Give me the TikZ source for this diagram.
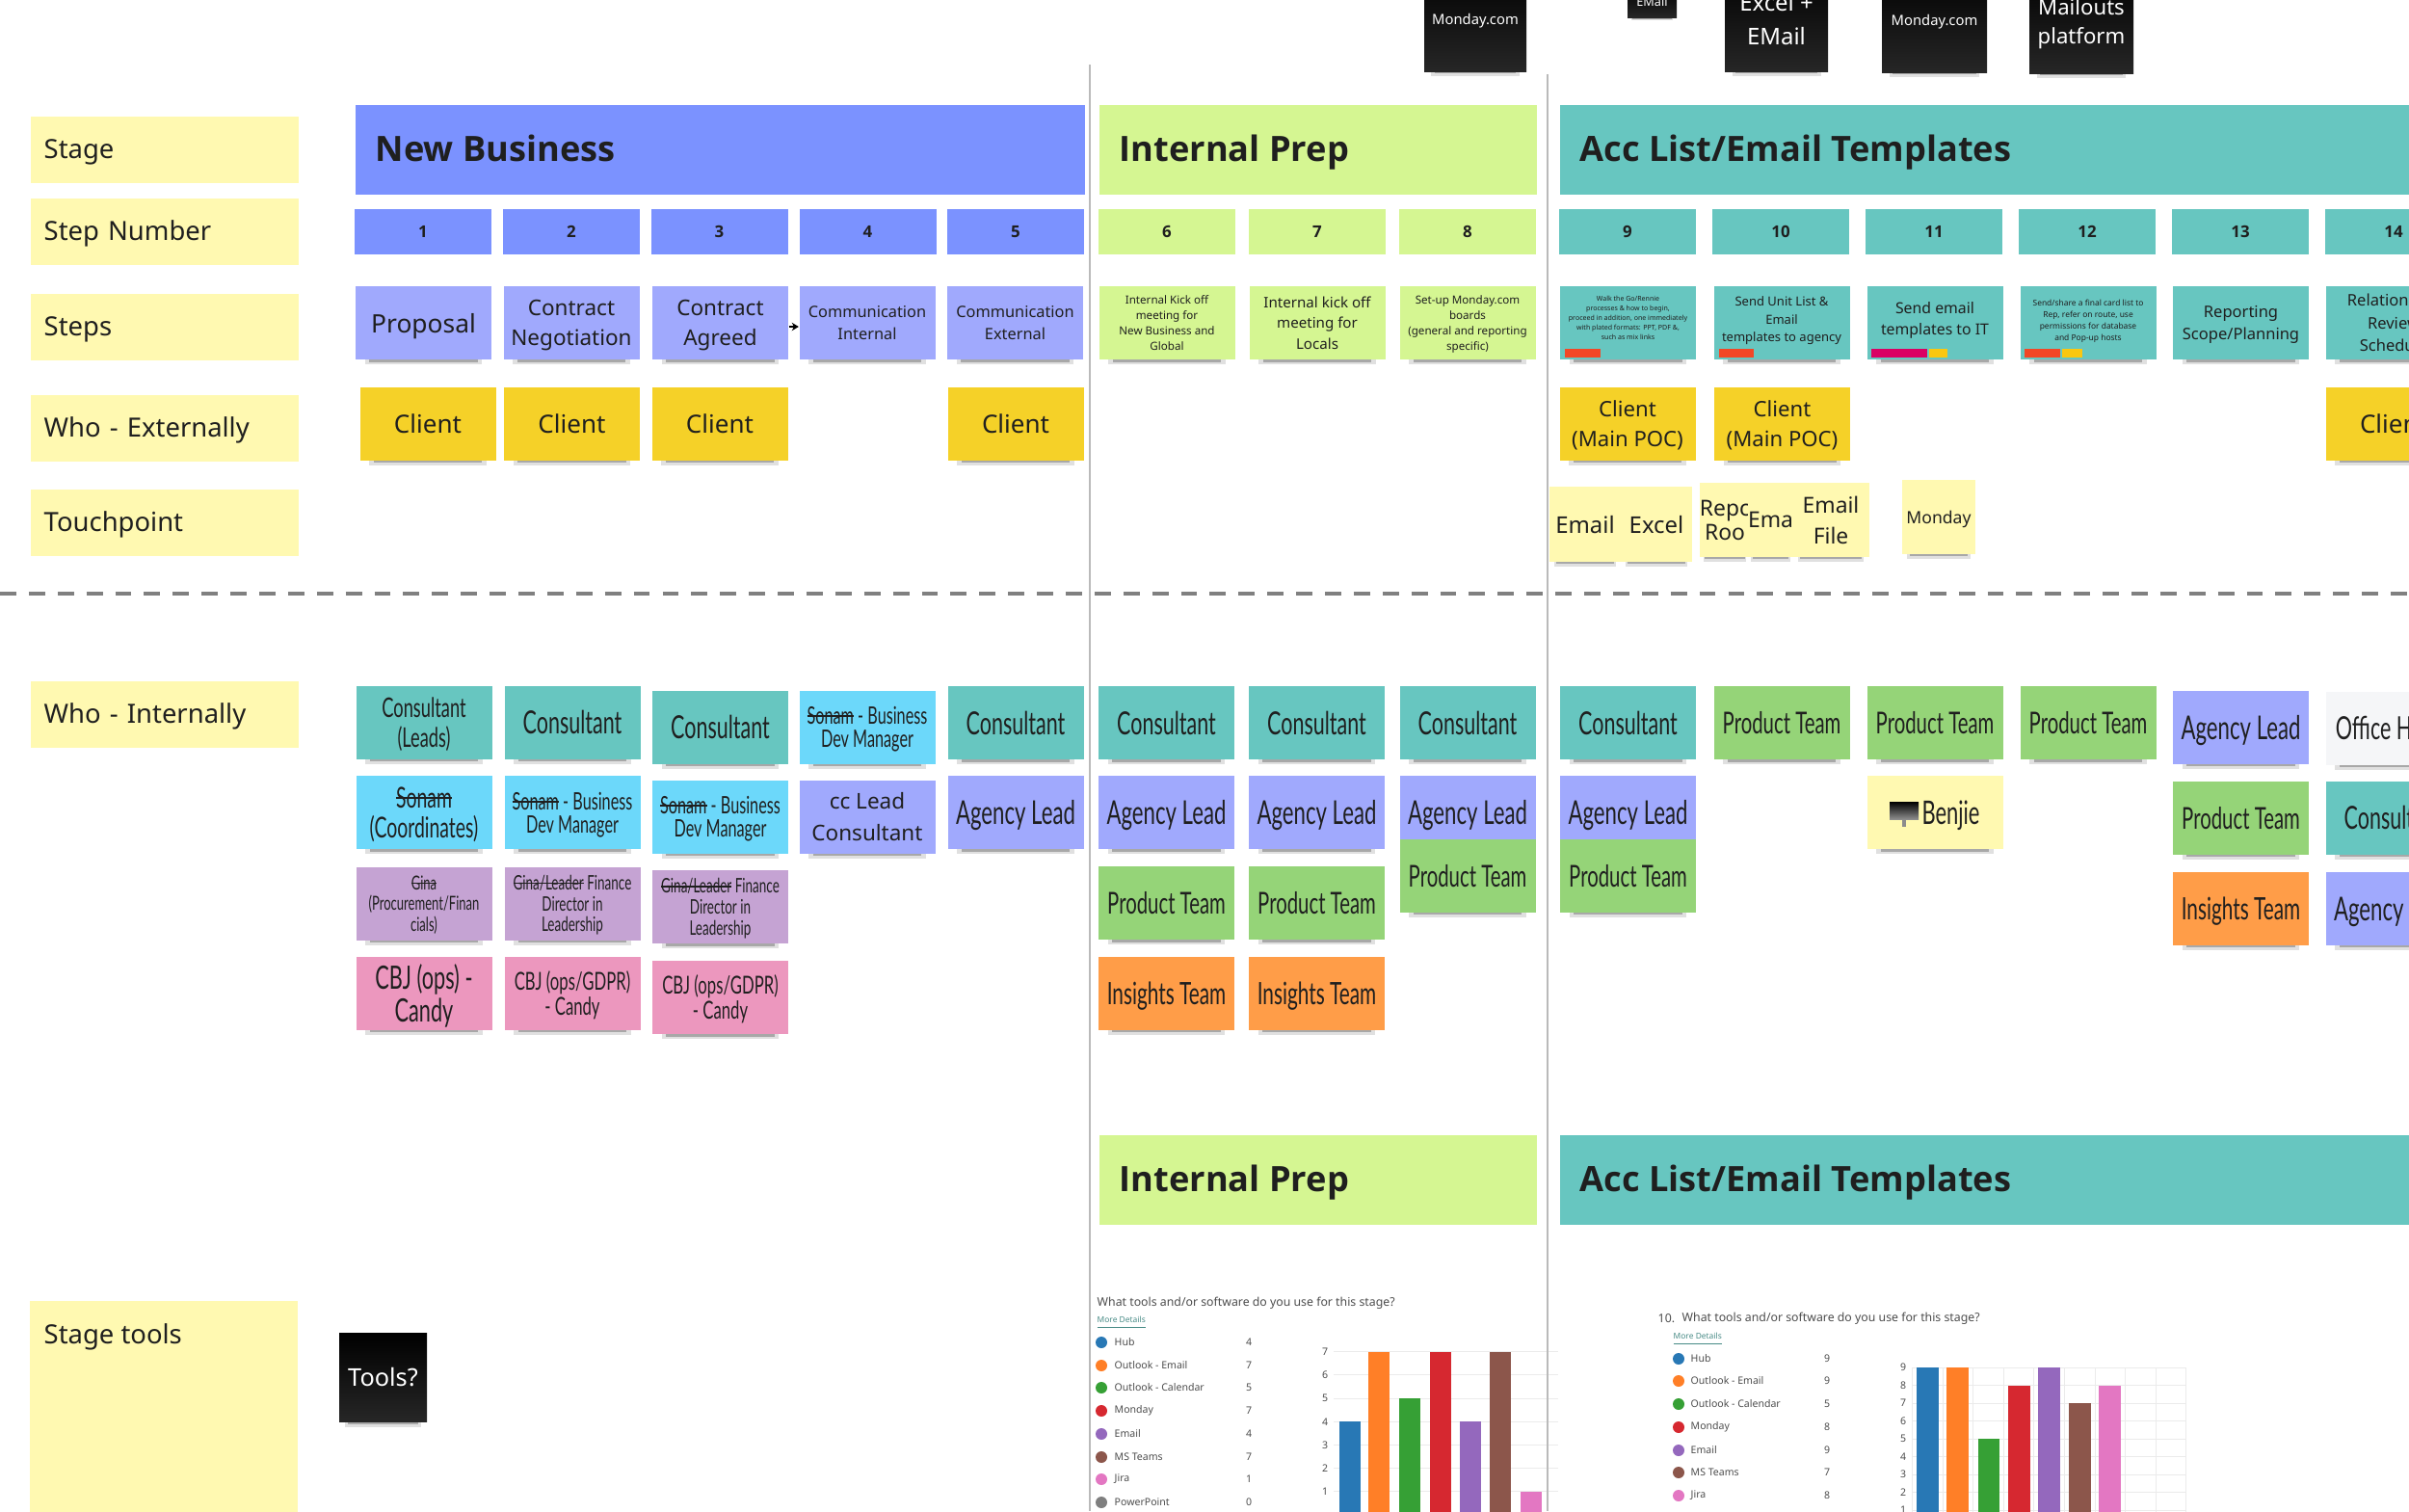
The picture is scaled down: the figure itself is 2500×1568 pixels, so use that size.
\documentclass[tikz,border=0pt]{standalone}
\usepackage{fontspec}
\setmainfont{Noto Sans}
\newfontfamily\handfont[FakeStretch=.65]{Lato}
\newfontfamily\titlefont{Open Sans}
\newsavebox\strikebox
\newcommand{\struck}[1]{\sbox\strikebox{#1}\rlap{\rule[.3em]{\wd\strikebox}{.07em}}\usebox\strikebox}
\usetikzlibrary{
    arrows.meta,
    calc,
    shadows
}
\definecolor{label yellow}{HTML}{FFF9B1}
\definecolor{stage blue}{HTML}{7B92FF}
\definecolor{stage lime}{HTML}{D5F692}
\definecolor{stage teal}{HTML}{67C6C0}
\definecolor{note blue}{HTML}{A0A9FD}
\definecolor{note yellow}{HTML}{F5D128}
\definecolor{note sky}{HTML}{6CD8FA}
\definecolor{note violet}{HTML}{C5A3D3}
\definecolor{note pink}{HTML}{EC97BE}
\definecolor{note green}{HTML}{95D478}
\definecolor{note orange}{HTML}{FF9D48}
\definecolor{note white}{HTML}{F5F6F8}
\definecolor{tag red}{HTML}{F24726}
\definecolor{tag magenta}{HTML}{DA0063}
\definecolor{tag yellow}{HTML}{FAC710}
\definecolor{chart blue}{HTML}{2878B5}
\definecolor{chart orange}{HTML}{FF7F27}
\definecolor{chart green}{HTML}{36A035}
\definecolor{chart red}{HTML}{D62830}
\definecolor{chart purple}{HTML}{9468BD}
\definecolor{chart brown}{HTML}{8C564B}
\definecolor{chart pink}{HTML}{E377C2}
\definecolor{chart gray}{HTML}{7F7F7F}
\tikzset{
    % Text
    txt/.style 2 args={font=\fontsize{#1}{#2}\selectfont},
    hand/.style 2 args={font=\handfont\fontsize{#1}{#2}\selectfont},
    %
    % Boxes
    flat box/.style={rectangle,inner sep=0pt,align=center,text=black!88,text depth=0pt},
    size/.style 2 args={minimum width=#1*0.01cm,minimum height=#2*0.01cm},
    rowlabel/.style={flat box,fill=label yellow,anchor=west,align=left,text width=2.5cm,inner xsep=0.14cm,size={278}{69},txt={7.8}{9.5},text height=.72em,text depth=.2em},
    stagehead/.style={flat box,anchor=west,align=left,size={#1}{93}},
    stagetitle/.style={flat box,anchor=west,font=\titlefont\fontsize{10.3}{12}\selectfont\bfseries,text height=.72em},
    stepnumber/.style={flat box,size={142}{47},font=\titlefont\fontsize{4.8}{6}\selectfont\bfseries},
    %
    % Sticky notes
    soft shadow/.style n args={3}{
        general shadow={fill=black,opacity=.12,shadow xshift=0pt,shadow yshift=-#3pt,shadow scale=.86},
        general shadow={fill=black,opacity=.25,shadow xshift=0pt,shadow yshift=-#2pt,shadow scale=.8},
        general shadow={fill=black,opacity=.45,shadow xshift=0pt,shadow yshift=-#1pt,shadow scale=.74}},
    sticky/.style={flat box,size={141}{76},soft shadow={3.7}{3.6}{3.5}},
    black note/.style={flat box,soft shadow={4.8}{4.5}{4.2},top color=black,bottom color=black!85,text=white},
    small black note/.style={flat box,soft shadow={2}{1.8}{1.6},top color=black,bottom color=black!85,text=white},
    %
    % Lines
    divider/.style={color=black!27,line width=.8pt},
    swimline/.style={color=black!50,line width=1.1pt,dash pattern=on 4.8pt off 3.7pt},
    arr/.style={-{Stealth[length=2pt,width=2.4pt]},line width=.3pt},
    %
    % Charts
    chart text/.style={inner sep=0pt,text=black!70,txt={3}{4}},
    chart title/.style={inner sep=0pt,anchor=west,text=black!70,txt={3.5}{4}},
    chart link/.style={inner sep=0pt,anchor=west,text=stage teal!70!black,txt={2.4}{3}},
    chart grid/.style={color=black!8,line width=.25pt}
}

\begin{document}
\begin{tikzpicture}[x=0.01cm,y=-0.01cm]
    \useasboundingbox (0,0) rectangle (2500,1568);
    \clip (0,0) rectangle (2500,1568);

    % Row labels
    \foreach \name/\cy/\txt in {stagerow/155/Stage,numberrow/240.5/Step Number,stepsrow/339.5/Steps,externalrow/444.5/Who - Externally,touchrow/542/Touchpoint,internalrow/741.5/Who - Internally}
        \node[rowlabel] (\name) at (31,\cy) {\txt};
    \fill[label yellow] (31,1350) rectangle (309,1580);
    \node[flat box,anchor=west,txt={7.8}{9.5},text height=.72em,text depth=.1em] (toolsrow) at (45,1384) {Stage tools};

    % Stage headers
    \node[stagehead=757,fill=stage blue] (newbusiness) at (368,155) {};
    \node[stagehead=454,fill=stage lime] (internalprep) at (1140,155) {};
    \node[stagehead=900,fill=stage teal] (acclist) at (1618,155) {};
    \node[stagehead=454,fill=stage lime] (internalprepb) at (1140,1224) {};
    \node[stagehead=900,fill=stage teal] (acclistb) at (1618,1224) {};
    \node[stagetitle] (newbusinesstitle) at (389,155) {New Business};
    \node[stagetitle] (internalpreptitle) at (1161,155) {Internal Prep};
    \node[stagetitle] (acclisttitle) at (1639,155) {Acc List/Email Templates};
    \node[stagetitle] (internalprepbtitle) at (1161,1224) {Internal Prep};
    \node[stagetitle] (acclistbtitle) at (1639,1224) {Acc List/Email Templates};

    % Step numbers
    \foreach \n/\cx/\clr in {1/439/stage blue,2/593/stage blue,3/746.5/stage blue,4/900.5/stage blue,5/1054/stage blue,6/1211/stage lime,7/1367/stage lime,8/1523/stage lime,9/1689/stage teal,10/1848/stage teal,11/2007/stage teal,12/2166/stage teal,13/2325/stage teal,14/2484/stage teal}
        \node[stepnumber,fill=\clr] (number\n) at (\cx,240.5) {\n};

    % Steps
    \foreach \n/\cx/\clr/\fs/\ls/\txt in {
        1/439.5/note blue/7.5/9/Proposal,
        2/593/note blue/6.4/9/{Contract\\Negotiation},
        3/747.5/note blue/6.4/9/{Contract\\Agreed},
        4/900/note blue/4.65/6.5/{Communication\\Internal},
        5/1053.5/note blue/4.65/6.5/{Communication\\External},
        6/1211/stage lime/3.3/4.6/{Internal Kick off\\meeting for\\New Business and\\Global},
        7/1367/stage lime/4.3/6.2/{Internal kick off\\meeting for\\Locals},
        8/1523/stage lime/3.3/4.6/{Set-up Monday.com\\boards\\(general and reporting\\specific)},
        9/1689.5/stage teal/2/2.9/{Walk the Go/Rennie\\processes \& how to begin,\\proceed in addition, one immediately\\with plated formats: PPT, PDF \&,\\such as mix links\\[0pt]\mbox{}},
        10/1849/stage teal/3.7/5.2/{Send Unit List \&\\Email\\templates to agency\\[-3pt]\mbox{}},
        11/2008/stage teal/4.5/6.4/{Send email\\templates to IT\\[-3.8pt]\mbox{}},
        12/2167/stage teal/2.4/3.4/{Send/share a final card list to\\Rep, refer on route, use\\permissions for database\\and Pop-up hosts\\[-1.7pt]\mbox{}},
        13/2325.5/stage teal/4.7/6.7/{Reporting\\Scope/Planning},
        14/2484/stage teal/4.7/6.7/{Relationship\\Review\\Schedule}}
        \node[sticky,fill=\clr,txt={\fs}{\ls}] (step\n) at (\cx,335) {\txt};
    \draw[arr] ($(step3.east)+(0,4)$) -- ($(step4.west)+(0,4)$);

    % Tags on the steps
    \fill[tag red] (1624,362) rectangle (1661,371);
    \fill[tag red] (1784,362) rectangle (1820,371);
    \fill[tag magenta] (1942,362) rectangle (2000,371);
    \fill[tag yellow] (2002,362) rectangle (2021,371);
    \fill[tag red] (2101,362) rectangle (2138,371);
    \fill[tag yellow] (2140,362) rectangle (2161,371);

    % Who - Externally
    \foreach \n/\cx/\txt in {a/444/Client,b/593.5/Client,c/747/Client,d/1054/Client,e/2484/Client}
        \node[sticky,fill=note yellow,txt={7.4}{8.9}] (client\n) at (\cx,439.5) {\txt};
    \foreach \n/\cx/\txt in {f/1689/{Client\\(Main POC)},g/1849.5/{Client\\(Main POC)}}
        \node[sticky,fill=note yellow,txt={6.3}{8.9}] (client\n) at (\cx,439.5) {\txt};

    % Touchpoints
    \node[sticky,size={74}{78},fill=label yellow,txt={6.8}{8}] (tpemail) at (1645,544) {Email};
    \node[sticky,size={74}{78},fill=label yellow,txt={6.8}{8}] (tpexcel) at (1719,544) {Excel};
    \node[sticky,size={50}{77},fill=label yellow,txt={6.5}{7.2}] (tprep) at (1790,539.5) {Repc\\Roo};
    \node[sticky,size={45}{77},fill=label yellow,txt={6.5}{8}] (tpema) at (1837.5,539.5) {Ema};
    \node[sticky,size={80}{77},fill=label yellow,txt={6.5}{9}] (tpfile) at (1900,539.5) {Email\\File};
    \node[sticky,size={76}{77},fill=label yellow,txt={5}{6}] (tpmonday) at (2012,536.5) {Monday};

    % Tools on top
    \node[black note,size={106}{108},txt={4.2}{5}] (toolmondaya) at (1531,20) {Monday.com};
    \node[small black note,size={51}{32},txt={3.6}{4}] (toolemail) at (1714.5,2) {EMail};
    \node[black note,size={107}{108},txt={6.8}{9.8}] (toolexcel) at (1843.5,20) {Excel +\\EMail};
    \node[black note,size={109}{108},txt={4.2}{5}] (toolmondayb) at (2007.5,21) {Monday.com};
    \node[black note,size={108}{108},txt={6.3}{8.5}] (toolmailouts) at (2160,22) {Mailouts\\platform};
    \node[black note,size={91}{92},txt={7.2}{8}] (toolsask) at (397.5,1429) {Tools?};

    % Who - Internally
    \foreach \n/\cx/\cy/\clr/\fs/\ls/\txt in {
        a1/440/749.5/stage teal/8/9/{Consultant\\(Leads)},
        a2/440/843/note sky/8.5/9/{\struck{Sonam}\\(Coordinates)},
        a3/440/937.5/note violet/5.7/6.2/{\struck{Gina}\\(Procurement/Finan\\cials)},
        a4/440/1030.5/note pink/9.5/8.5/{CBJ (ops) -\\Candy},
        b1/594/749.5/stage teal/9.4/9/Consultant,
        b2/594/843/note sky/7.1/6.8/{\struck{Sonam} - Business\\Dev Manager},
        b3/594/937.5/note violet/5.9/6.2/{\struck{Gina/Leader} Finance\\Director in\\Leadership},
        b4/594/1030.5/note pink/7.3/7.4/{CBJ (ops/GDPR)\\- Candy},
        c1/747.5/754.5/stage teal/9.4/9/Consultant,
        c2/747.5/847.5/note sky/7.1/6.8/{\struck{Sonam} - Business\\Dev Manager},
        c3/747.5/941/note violet/5.9/6.2/{\struck{Gina/Leader} Finance\\Director in\\Leadership},
        c4/747.5/1035/note pink/7.3/7.4/{CBJ (ops/GDPR)\\- Candy},
        d1/900/754.5/note sky/7.1/6.8/{\struck{Sonam} - Business\\Dev Manager},
        d2/900/847.5/note blue/6.4/9.2/{\normalfont\fontsize{6.4}{9.2}\selectfont cc Lead\\\normalfont\fontsize{6.4}{9.2}\selectfont Consultant},
        e1/1054/750/stage teal/9.4/9/Consultant,
        e2/1054/843/note blue/9.7/9/Agency Lead,
        f1/1210.5/750/stage teal/9.4/9/Consultant,
        f2/1210.5/843/note blue/9.7/9/Agency Lead,
        f3/1210.5/937/note green/8.9/9/Product Team,
        f4/1210.5/1030.5/note orange/9.1/9/Insights Team,
        g1/1366.5/750/stage teal/9.4/9/Consultant,
        g2/1366.5/843/note blue/9.7/9/Agency Lead,
        g3/1366.5/937/note green/8.9/9/Product Team,
        g4/1366.5/1030.5/note orange/9.1/9/Insights Team,
        h1/1523/750/stage teal/9.4/9/Consultant,
        h2/1523/843/note blue/9.7/9/Agency Lead,
        h3/1523/908.5/note green/8.9/9/Product Team,
        i1/1689.5/750/stage teal/9.4/9/Consultant,
        i2/1689.5/843/note blue/9.7/9/Agency Lead,
        i3/1689.5/908.5/note green/8.9/9/Product Team,
        j1/1849/750/note green/8.9/9/Product Team,
        k1/2008/750/note green/8.9/9/Product Team,
        k2/2008/843/label yellow/7.2/9/{},
        l1/2167/750/note green/8.9/9/Product Team,
        m1/2325.5/754.5/note blue/9.7/9/Agency Lead,
        m2/2325.5/848.5/note green/8.9/9/Product Team,
        m3/2325.5/942.5/note orange/9.1/9/Insights Team,
        n1/2484/755.5/note white/9.4/9/Office Hours,
        n2/2484/848.5/stage teal/9.4/9/Consultant,
        n3/2484/942.5/note blue/9.7/9/Agency Lead}
        \node[sticky,fill=\clr,hand={\fs}{\ls}] (who\n) at (\cx,\cy) {\txt};
    \node[flat box,hand={9.6}{9}] (benjie) at (2024.5,843) {Benjie};
    \shade[top color=black,bottom color=black!45] (1961,832) rectangle (1991,850);
    \fill[black!45] (1974,850) rectangle (1978,858);

    % First chart
    \node[chart title] (charta) at (1138,1352) {What tools and/or software do you use for this stage?};
    \node[chart link] (chartalink) at (1138,1373) {\underline{More Details}};
    \foreach \n/\yy/\lab/\val/\clr in {1/1393/Hub/4/chart blue,2/1417/Outlook - Email/7/chart orange,3/1440/Outlook - Calendar/5/chart green,4/1464/Monday/7/chart red,5/1488/Email/4/chart purple,6/1512/MS Teams/7/chart brown,7/1535/Jira/1/chart pink,8/1559/PowerPoint/0/chart gray}{
        \fill[\clr] (1143,\yy) circle (6);
        \node[chart text,anchor=west] (chartalabel\n) at (1156,\yy) {\lab};
        \node[chart text] (chartacount\n) at (1296,\yy) {\val};
    }
    \foreach \v in {1,...,7}{
        \draw[chart grid] (1384,1572-\v*24.2) -- (1617,1572-\v*24.2);
        \node[chart text] (chartaaxis\v) at (1375,1572-\v*24.2) {\v};
    }
    \foreach \left/\right/\val/\clr in {1390/1412/4/chart blue,1420/1442/7/chart orange,1452/1474/5/chart green,1483.5/1506/7/chart red,1515/1537/4/chart purple,1546/1568/7/chart brown,1578/1600/1/chart pink}
        \fill[\clr] (\left,1572-\val*24.2) rectangle (\right,1580);

    % Second chart
    \node[chart text,anchor=west,txt={3.5}{4}] (chartbnumber) at (1720,1368) {10.};
    \node[chart title] (chartb) at (1745,1368) {What tools and/or software do you use for this stage?};
    \node[chart link] (chartblink) at (1736,1390) {\underline{More Details}};
    \foreach \n/\yy/\lab/\val/\clr in {1/1410/Hub/9/chart blue,2/1433/Outlook - Email/9/chart orange,3/1457/Outlook - Calendar/5/chart green,4/1481/Monday/8/chart red,5/1505/Email/9/chart purple,6/1528/MS Teams/7/chart brown,7/1552/Jira/8/chart pink}{
        \fill[\clr] (1742,\yy) circle (6);
        \node[chart text,anchor=west] (chartblabel\n) at (1754,\yy) {\lab};
        \node[chart text] (chartbcount\n) at (1896,\yy) {\val};
    }
    \foreach \v in {1,...,9}{
        \draw[chart grid] (1984.5,1585.5-\v*18.5) -- (2269,1585.5-\v*18.5);
        \node[chart text] (chartbaxis\v) at (1975,1585.5-\v*18.5) {\v};
    }
    \foreach \v in {0,...,9}
        \draw[chart grid] (1984.5+\v*31.6,1419) -- (1984.5+\v*31.6,1580);
    \foreach \left/\right/\val/\clr in {1989/2012/9/chart blue,2020/2043/9/chart orange,2052.5/2075/5/chart green,2084/2107/8/chart red,2115/2137.5/9/chart purple,2147/2169.5/7/chart brown,2178/2201/8/chart pink}
        \fill[\clr] (\left,1585.5-\val*18.5) rectangle (\right,1580);

    % Dividers
    \draw[swimline] (0,616) -- (2500,616);
    \draw[divider] (1131,67) -- (1131,1568);
    \draw[divider] (1606,77) -- (1606,1568);
\end{tikzpicture}
\end{document}
